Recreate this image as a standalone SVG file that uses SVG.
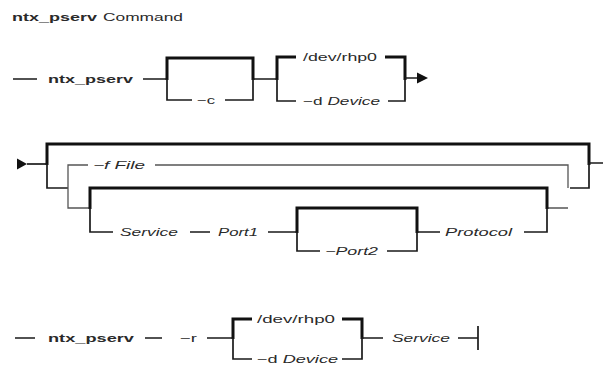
<svg xmlns="http://www.w3.org/2000/svg" width="603" height="365" viewBox="0 0 603 365">
<style>
text{font-family:"Liberation Sans",Arial,sans-serif;font-size:11.5px;fill:#2a2a2a}
.b{font-weight:bold}
.i{font-style:italic}
.ln{fill:none;stroke:#1a1a1a;stroke-width:1.7}
.tk{fill:none;stroke:#111;stroke-width:3}
.lt{fill:none;stroke:#555;stroke-width:1.3}
.ah{fill:#111}
</style>
<rect width="603" height="365" fill="#fff"/>
<g id="title">
<text x="12" y="21" class="b" textLength="85" lengthAdjust="spacingAndGlyphs">ntx_pserv</text>
<text x="103" y="21" textLength="80" lengthAdjust="spacingAndGlyphs">Command</text>
</g>
<g id="connectors">
<!-- row 1 -->
<path class="ln" d="M13,79 H37 M143,79 H167 M253,79 H277"/>
<path class="tk" d="M167,80 V58 H253 V80"/>
<path class="ln" d="M167,79 V100 H192 M225,100 H253 V79"/>
<path class="tk" d="M277,80 V57 H296 M385,57 H405 V80"/>
<path class="ln" d="M277,79 V101 H296 M388,101 H405 V79 M405,78 H418"/>
<polygon class="ah" points="417,72.5 428,78 417,83.5"/>
<!-- row 2 -->
<polygon class="ah" points="17,158.5 27,164 17,169.5"/>
<path class="ln" d="M27,164 H47"/>
<path class="tk" d="M47,165 V144 H589 V165"/>
<path class="ln" d="M47,164 V188 H68 M570,188 H589 V163 H603"/>
<path class="lt" d="M68,188 V165 H88 M155,165 H568 V188 M68,188 V208 H90 M548,208 H568"/>
<path class="tk" d="M90,209 V188 H547 V209"/>
<path class="ln" d="M90,208 V232 H113 M190,232 H210 M268,232 H297 M547,208 V232 H524"/>
<path class="tk" d="M297,233 V208 H417 V233"/>
<path class="ln" d="M297,232 V251 H320 M387,251 H417 V232 H440"/>
<!-- row 3 -->
<path class="ln" d="M15,338 H35 M145,338 H162 M207,338 H233"/>
<path class="tk" d="M233,339 V319 H252 M342,319 H362 V339"/>
<path class="ln" d="M233,338 V359 H252 M342,359 H362 V338 H383 M458,338 H478 M478,326 V350"/>
</g>
<g id="n-cmd1"><text x="48" y="83" class="b" textLength="85" lengthAdjust="spacingAndGlyphs">ntx_pserv</text></g>
<g id="n-c"><text x="197" y="104" textLength="18" lengthAdjust="spacingAndGlyphs">−c</text></g>
<g id="n-dev1"><text x="303" y="61" textLength="74" lengthAdjust="spacingAndGlyphs">/dev/rhp0</text></g>
<g id="n-d1"><text x="303" y="105" textLength="77" lengthAdjust="spacingAndGlyphs">−d <tspan class="i">Device</tspan></text></g>
<g id="n-f"><text x="93" y="169" class="i" textLength="52" lengthAdjust="spacingAndGlyphs">−f File</text></g>
<g id="n-service1"><text x="120" y="236" class="i" textLength="58" lengthAdjust="spacingAndGlyphs">Service</text></g>
<g id="n-port1"><text x="218" y="236" class="i" textLength="40" lengthAdjust="spacingAndGlyphs">Port1</text></g>
<g id="n-port2"><text x="325" y="255" class="i" textLength="53" lengthAdjust="spacingAndGlyphs">−Port2</text></g>
<g id="n-protocol"><text x="445" y="236" class="i" textLength="67" lengthAdjust="spacingAndGlyphs">Protocol</text></g>
<g id="n-cmd2"><text x="48" y="342" class="b" textLength="86" lengthAdjust="spacingAndGlyphs">ntx_pserv</text></g>
<g id="n-r"><text x="180" y="342" textLength="17" lengthAdjust="spacingAndGlyphs">−r</text></g>
<g id="n-dev2"><text x="257" y="323" textLength="78" lengthAdjust="spacingAndGlyphs">/dev/rhp0</text></g>
<g id="n-d2"><text x="257" y="363" textLength="81" lengthAdjust="spacingAndGlyphs">−d <tspan class="i">Device</tspan></text></g>
<g id="n-service2"><text x="392" y="342" class="i" textLength="58" lengthAdjust="spacingAndGlyphs">Service</text></g>
</svg>
